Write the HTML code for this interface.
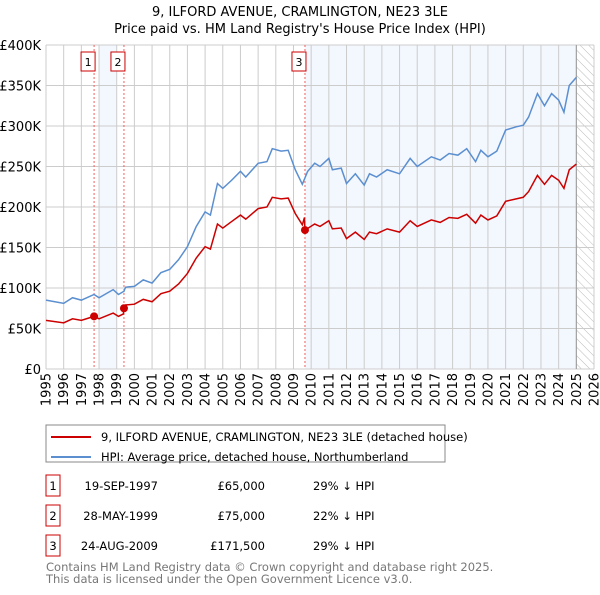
<!DOCTYPE html>
<html><head><meta charset="utf-8"><style>
body{margin:0;background:#fff;font-family:"Liberation Sans","DejaVu Sans",sans-serif}
svg text{font-family:"DejaVu Sans","Liberation Sans",sans-serif}
</style></head><body>
<svg width="600" height="590" xmlns="http://www.w3.org/2000/svg">
<defs><pattern id="hatch" width="6" height="6" patternUnits="userSpaceOnUse" patternTransform="rotate(-45)"><line x1="0" y1="0" x2="0" y2="6" stroke="#bbb" stroke-width="1"/></pattern></defs>
<text x="300" y="16" text-anchor="middle" font-size="13">9, ILFORD AVENUE, CRAMLINGTON, NE23 3LE</text>
<text x="300" y="33" text-anchor="middle" font-size="13">Price paid vs. HM Land Registry's House Price Index (HPI)</text>
<g id="plot"></g>
<g>
<rect x="46" y="425" width="399" height="37" fill="#fff" stroke="#888"/>
<line x1="51" y1="437" x2="91" y2="437" stroke="#cc0000" stroke-width="2"/>
<text x="101" y="441" font-size="11.5">9, ILFORD AVENUE, CRAMLINGTON, NE23 3LE (detached house)</text>
<line x1="51" y1="457" x2="91" y2="457" stroke="#5b8fd0" stroke-width="2"/>
<text x="101" y="461" font-size="11.5">HPI: Average price, detached house, Northumberland</text>
</g>
<g font-size="11.5">
<rect x="46" y="475" width="14" height="21" fill="#fff" stroke="#cc0000"/><text x="53" y="490" text-anchor="middle">1</text>
<text x="158" y="490" text-anchor="end">19-SEP-1997</text><text x="265" y="490" text-anchor="end">£65,000</text><text x="313" y="490">29% ↓ HPI</text>
<rect x="46" y="505" width="14" height="21" fill="#fff" stroke="#cc0000"/><text x="53" y="520" text-anchor="middle">2</text>
<text x="158" y="520" text-anchor="end">28-MAY-1999</text><text x="265" y="520" text-anchor="end">£75,000</text><text x="313" y="520">22% ↓ HPI</text>
<rect x="46" y="535" width="14" height="21" fill="#fff" stroke="#cc0000"/><text x="53" y="550" text-anchor="middle">3</text>
<text x="158" y="550" text-anchor="end">24-AUG-2009</text><text x="265" y="550" text-anchor="end">£171,500</text><text x="313" y="550">29% ↓ HPI</text>
</g>
<text x="46" y="571" font-size="11.5" fill="#777">Contains HM Land Registry data © Crown copyright and database right 2025.</text>
<text x="46" y="583" font-size="11.5" fill="#777">This data is licensed under the Open Government Licence v3.0.</text>
</svg>
<script>
const years=[1995,1996,1997,1998,1999,2000,2001,2002,2003,2004,2005,2006,2007,2008,2009,2010,2011,2012,2013,2014,2015,2016,2017,2018,2019,2020,2021,2022,2023,2024,2025,2026];
const yTicks=[0,50000,100000,150000,200000,250000,300000,350000,400000];
const yTickLabels=["£0","£50K","£100K","£150K","£200K","£250K","£300K","£350K","£400K"];
const hpiDates=[1995.0,1996.0,1996.5,1997.0,1997.72,1998.0,1998.8,1999.1,1999.41,1999.5,2000.0,2000.5,2001.0,2001.5,2002.0,2002.5,2003.0,2003.5,2004.0,2004.3,2004.7,2005.0,2005.5,2006.0,2006.3,2007.0,2007.5,2007.8,2008.3,2008.7,2009.1,2009.5,2009.8,2010.2,2010.5,2011.0,2011.2,2011.7,2012.0,2012.5,2013.0,2013.3,2013.7,2014.3,2015.0,2015.6,2016.0,2016.8,2017.3,2017.8,2018.3,2018.8,2019.3,2019.6,2020.0,2020.5,2021.0,2021.6,2022.0,2022.3,2022.8,2023.2,2023.6,2024.0,2024.3,2024.6,2025.0];
const hpiValues=[85000,81000,88000,85000,92000,88000,98000,92000,96000,101000,102000,110000,106000,119000,123000,135000,151000,176000,194000,190000,229000,223000,233000,244000,237000,254000,256000,272000,269000,270000,246000,228000,244000,254000,250000,260000,246000,248000,229000,241000,227000,241000,237000,246000,241000,260000,250000,262000,258000,266000,264000,272000,256000,270000,262000,269000,295000,299000,301000,311000,340000,325000,340000,332000,317000,350000,360000];
const propDates=[1995.0,1996.0,1996.5,1997.0,1997.72,1998.0,1998.8,1999.1,1999.38,1999.41,1999.5,2000.0,2000.5,2001.0,2001.5,2002.0,2002.5,2003.0,2003.5,2004.0,2004.3,2004.7,2005.0,2005.5,2006.0,2006.3,2007.0,2007.5,2007.8,2008.3,2008.7,2009.1,2009.5,2009.62,2009.65,2010.2,2010.5,2011.0,2011.2,2011.7,2012.0,2012.5,2013.0,2013.3,2013.7,2014.3,2015.0,2015.6,2016.0,2016.8,2017.3,2017.8,2018.3,2018.8,2019.3,2019.6,2020.0,2020.5,2021.0,2021.6,2022.0,2022.3,2022.8,2023.2,2023.6,2024.0,2024.3,2024.6,2025.0];
const propValues=[60000,57000,62000,60000,65000,62000,69000,65000,68000,75000,79000,80000,86000,83000,93000,96000,105000,118000,137000,151000,148000,179000,174000,182000,190000,185000,198000,200000,212000,210000,211000,192000,178000,187000,171500,179000,176000,183000,173000,174000,161000,169000,160000,169000,167000,173000,169000,183000,176000,184000,181000,187000,186000,191000,180000,190000,184000,189000,207000,210000,212000,219000,239000,228000,239000,233000,223000,246000,253000];
const saleDates=[1997.72,1999.41,2009.65];
const salePrices=[65000,75000,171500];
const saleLabels=["1","2","3"];
const x0=46,x1=594,y0=369,y1=45;
const X=t=>x0+(t-1995)/31*(x1-x0);
const Y=v=>y0-v/400000*(y0-y1);
const NS="http://www.w3.org/2000/svg";
const g=document.getElementById('plot');
function mk(tag,attrs,parent){const e=document.createElementNS(NS,tag);for(const k in attrs)e.setAttribute(k,attrs[k]);(parent||g).appendChild(e);return e;}
let e;
e=mk('rect',{x:X(1998),y:y1,width:X(1999)-X(1998),height:y0-y1,fill:'#eef4fd',opacity:0.7});


e=mk('rect',{x:X(2009.65),y:y1,width:X(2025)-X(2009.65),height:y0-y1,fill:'#eef4fd',opacity:0.7});


e=mk('rect',{x:X(2025),y:y1,width:x1-X(2025),height:y0-y1,fill:'url(#hatch)'});


years.forEach((yr,i)=>{
 e=mk('line',{x1:X(yr),x2:X(yr),y1:y1,y2:y0,stroke:'#ccc','stroke-width':1});
 
 
 e=mk('text',{x:0,y:0,transform:`translate(${X(yr)+4.5},${y0+4}) rotate(-90)`,'text-anchor':'end','font-size':13});
 e.textContent=yr;
 
 
});
yTicks.forEach((v,i)=>{
 e=mk('line',{x1:x0,x2:x1,y1:Y(v),y2:Y(v),stroke:'#ccc','stroke-width':1});
 
 
 e=mk('text',{x:x0-5,y:Y(v)+5,'text-anchor':'end','font-size':13});
 e.textContent=yTickLabels[i];
 
 
});
e=mk('line',{x1:X(2025),x2:X(2025),y1:y1,y2:y0,stroke:'#999','stroke-width':1});


e=mk('line',{x1:x0,x2:x0,y1:y1,y2:y0,stroke:'#ccc'});


saleDates.forEach((d,i)=>{
 e=mk('line',{x1:X(d),x2:X(d),y1:y1,y2:y0,stroke:'#f06060','stroke-width':1,'stroke-dasharray':'2,2'});
 
 
});
e=mk('polyline',{points:hpiDates.map((d,i)=>X(d)+','+Y(hpiValues[i])).join(' '),fill:'none',stroke:'#5b8fd0','stroke-width':1.5});


e=mk('polyline',{points:propDates.map((d,i)=>X(d)+','+Y(propValues[i])).join(' '),fill:'none',stroke:'#cc0000','stroke-width':1.5});


saleDates.forEach((d,i)=>{
 e=mk('circle',{cx:X(d),cy:Y(salePrices[i]),r:4,fill:'#cc0000'});
 
 
 e=mk('rect',{x:X(d)-13,y:52,width:14,height:19,fill:'#fff',stroke:'#cc0000'});
 
 
 e=mk('text',{x:X(d)-6,y:66,'text-anchor':'middle','font-size':11});
 e.textContent=saleLabels[i];
 
 
});
</script>
</body></html>
